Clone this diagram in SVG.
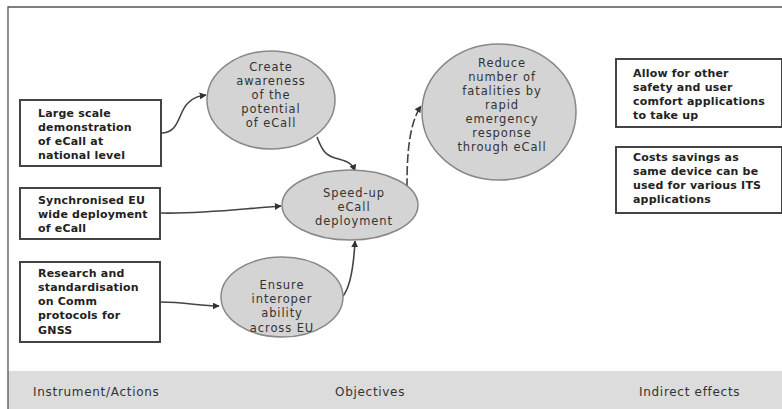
<svg xmlns="http://www.w3.org/2000/svg" width="782" height="409" viewBox="0 0 782 409">
<defs>
<marker id="arr" viewBox="0 0 10 10" refX="9" refY="5" markerWidth="7" markerHeight="7" orient="auto" markerUnits="userSpaceOnUse">
<path d="M0,0 L10,5 L0,10 z" fill="#333"/>
</marker>
<style>
.frame{fill:none;stroke:#555;stroke-width:1.3}
.box{fill:#fff;stroke:#444;stroke-width:2}
.ell{fill:#d4d4d4;stroke:#888;stroke-width:1.5}
.bt{font-family:"DejaVu Sans",Verdana,sans-serif;font-weight:bold;font-size:11px;letter-spacing:0.2px;fill:#222}
.et{font-family:"DejaVu Sans",Verdana,sans-serif;font-size:11.5px;fill:#333;letter-spacing:0.9px;text-anchor:middle}
.ft{font-family:"DejaVu Sans",Verdana,sans-serif;font-size:12px;fill:#333;letter-spacing:0.7px}
.con{fill:none;stroke:#444;stroke-width:1.6}
</style>
</defs>
<rect x="0" y="0" width="782" height="409" fill="#fff"/>
<rect x="8" y="371" width="774" height="38" fill="#dcdcdc"/>
<path class="frame" d="M782,7 H8 V409"/>
<g id="footer">
<text class="ft" x="33" y="396">Instrument/Actions</text>
<text class="ft" x="335" y="396">Objectives</text>
<text class="ft" x="639" y="396">Indirect effects</text>
</g>
<g id="connectors">
<path class="con" d="M161,133 C180,133 178,112 188,103 C194,97 199,96 206,95" marker-end="url(#arr)"/>
<path class="con" d="M317,137 C322,150 325,155 335,158 C347,161 352,163 355,171" marker-end="url(#arr)"/>
<path class="con" d="M161,213 C200,214 230,210 281,206" marker-end="url(#arr)"/>
<path class="con" d="M161,302 C185,302 200,306 219,306" marker-end="url(#arr)"/>
<path class="con" d="M343,296 C352,285 354,260 355,241" marker-end="url(#arr)"/>
<path class="con" d="M407,187 C407,160 408,125 421,106" stroke-dasharray="9,3" marker-end="url(#arr)"/>
</g>
<g id="box-large-scale">
<rect class="box" x="20" y="100" width="141" height="66"/>
<text class="bt" x="38" y="117">Large scale</text>
<text class="bt" x="38" y="131">demonstration</text>
<text class="bt" x="38" y="145">of eCall at</text>
<text class="bt" x="38" y="159">national level</text>
</g>
<g id="box-synchronised">
<rect class="box" x="20" y="188" width="140" height="51"/>
<text class="bt" x="38" y="204">Synchronised EU</text>
<text class="bt" x="38" y="218">wide deployment</text>
<text class="bt" x="38" y="232">of eCall</text>
</g>
<g id="box-research">
<rect class="box" x="20" y="262" width="140" height="80"/>
<text class="bt" x="38" y="277">Research and</text>
<text class="bt" x="38" y="291">standardisation</text>
<text class="bt" x="38" y="305">on Comm</text>
<text class="bt" x="38" y="319">protocols for</text>
<text class="bt" x="38" y="334">GNSS</text>
</g>
<g id="ell-awareness">
<ellipse class="ell" cx="271" cy="100" rx="64" ry="49"/>
<text class="et" x="271" y="71">Create</text>
<text class="et" x="271" y="85">awareness</text>
<text class="et" x="271" y="99">of the</text>
<text class="et" x="271" y="113">potential</text>
<text class="et" x="271" y="127">of eCall</text>
</g>
<g id="ell-speedup">
<ellipse class="ell" cx="350" cy="205" rx="68" ry="35"/>
<text class="et" x="354" y="197">Speed-up</text>
<text class="et" x="354" y="211">eCall</text>
<text class="et" x="354" y="225">deployment</text>
</g>
<g id="ell-ensure">
<ellipse class="ell" cx="282" cy="297" rx="61" ry="40"/>
<text class="et" x="282" y="289">Ensure</text>
<text class="et" x="282" y="303">interoper</text>
<text class="et" x="282" y="317">ability</text>
<text class="et" x="282" y="332">across EU</text>
</g>
<g id="ell-reduce">
<ellipse class="ell" cx="499" cy="112" rx="77" ry="68"/>
<text class="et" x="502" y="67">Reduce</text>
<text class="et" x="502" y="81">number of</text>
<text class="et" x="502" y="95">fatalities by</text>
<text class="et" x="502" y="109">rapid</text>
<text class="et" x="502" y="123">emergency</text>
<text class="et" x="502" y="137">response</text>
<text class="et" x="502" y="151">through eCall</text>
</g>
<g id="box-allow">
<rect class="box" x="616" y="59" width="166" height="68"/>
<text class="bt" x="633" y="77">Allow for other</text>
<text class="bt" x="633" y="91">safety and user</text>
<text class="bt" x="633" y="105">comfort applications</text>
<text class="bt" x="633" y="119">to take up</text>
</g>
<g id="box-costs">
<rect class="box" x="616" y="147" width="166" height="66"/>
<text class="bt" x="633" y="161">Costs savings as</text>
<text class="bt" x="633" y="175">same device can be</text>
<text class="bt" x="633" y="189">used for various ITS</text>
<text class="bt" x="633" y="203">applications</text>
</g>
</svg>
